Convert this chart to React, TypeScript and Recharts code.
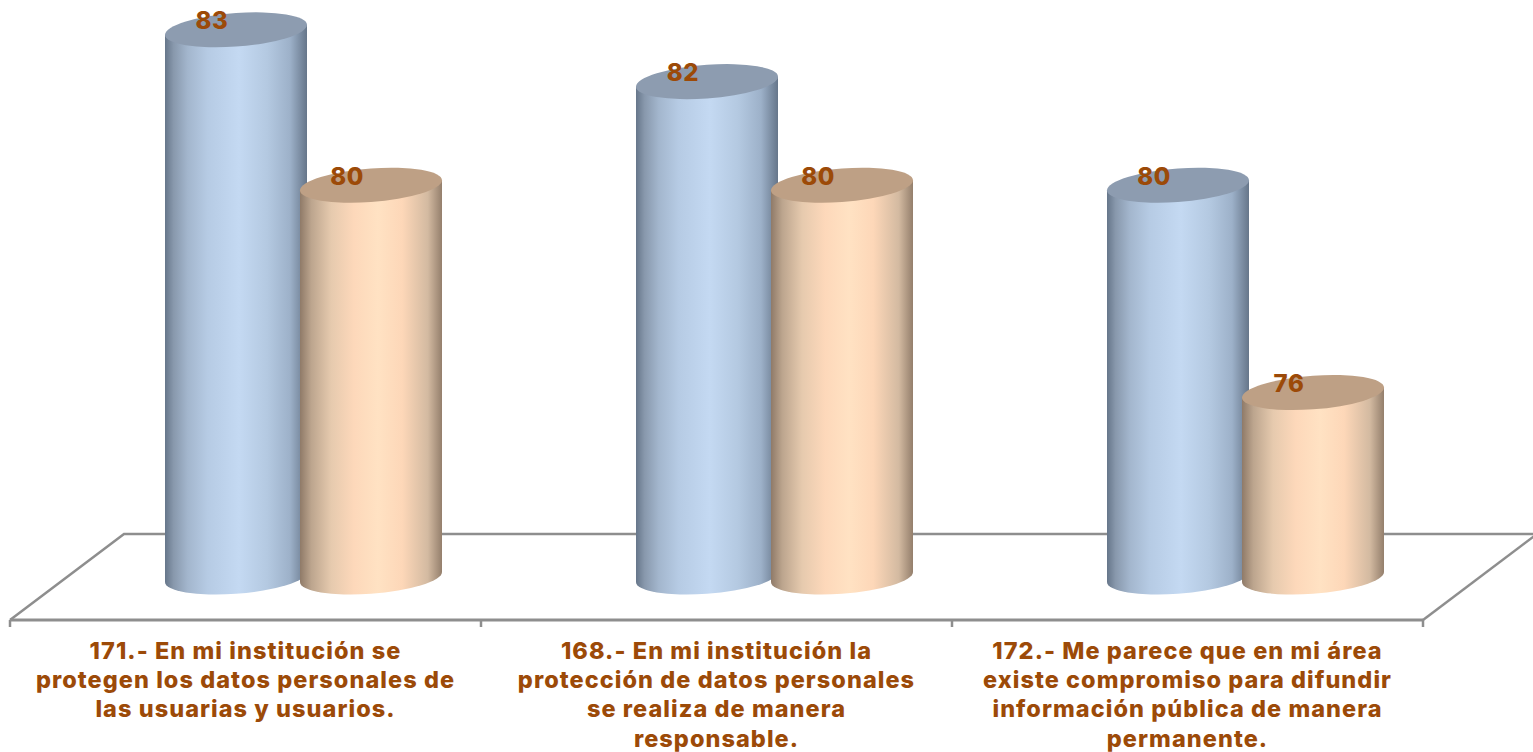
import { BarChart, Bar, XAxis, YAxis, LabelList, usePlotArea } from 'recharts'

const categories = ['171', '168', '172']
const categoryLines = [
  ['171.- En mi institución se', 'protegen los datos personales de', 'las usuarias y usuarios.'],
  ['168.- En mi institución la', 'protección de datos personales', 'se realiza de manera', 'responsable.'],
  ['172.- Me parece que en mi área', 'existe compromiso para difundir', 'información pública de manera', 'permanente.'],
]
const blueValues = [83, 82, 80]
const orangeValues = [80, 80, 76]

const data = categories.map((name, i) => ({
  name,
  blue: blueValues[i],
  orange: orangeValues[i],
}))

const TEXT_COLOR = '#9c4a08'
const FONT = 'Inter, sans-serif'
const FLOOR_COLOR = '#8e8e8e'

// floor depth, and how far the cylinders sit back from the front edge
const DEPTH_X = 114
const DEPTH_Y = 86
const BAR_SHIFT_X = 58
const BAR_SHIFT_Y = 43
const SLANT = 5
const CAP_RY = 16.8

function Floor() {
  const plot = usePlotArea()
  if (!plot) return null
  const { x, y, width, height } = plot
  const bottom = y + height
  const right = x + width
  const band = width / categories.length
  return (
    <g stroke={FLOOR_COLOR} strokeWidth={2.5} fill="none">
      <path d={`M${x} ${bottom} L${x + DEPTH_X} ${bottom - DEPTH_Y} H${right + DEPTH_X + 2}`} />
      <path d={`M${right} ${bottom} L${right + DEPTH_X} ${bottom - DEPTH_Y}`} />
      {[0, 1, 2, 3].map((i) => (
        <line key={i} x1={x + band * i} x2={x + band * i} y1={bottom} y2={bottom + 7} />
      ))}
    </g>
  )
}

function Cylinder(props: any) {
  const { x, y, width, height, gradient, capColor } = props
  const rx = width / 2
  const cx = x + rx + BAR_SHIFT_X
  const top = y - BAR_SHIFT_Y
  const shear = `matrix(1 ${-SLANT / rx} 0 1 ${cx} ${top})`
  return (
    <g transform={shear}>
      <path
        d={`M${-rx} 0 V${height} A${rx} ${CAP_RY} 0 0 0 ${rx} ${height} V0 Z`}
        fill={`url(#${gradient})`}
      />
      <ellipse cx={0} cy={0} rx={rx} ry={CAP_RY} fill={capColor} />
    </g>
  )
}

function ValueLabel(props: any) {
  const { x, y, width, value } = props
  return (
    <text
      x={x + width / 2 + BAR_SHIFT_X - 24}
      y={y - BAR_SHIFT_Y - 9}
      dy={8.5}
      textAnchor="middle"
      fontFamily={FONT}
      fontWeight={800}
      fontSize={24}
      letterSpacing={0.6}
      fill={TEXT_COLOR}
    >
      {value}
    </text>
  )
}

function CategoryTick(props: any) {
  const { x, index } = props
  return (
    <text
      textAnchor="middle"
      fontFamily={FONT}
      fontWeight={800}
      fontSize={23.5}
      letterSpacing={1.05}
      fill={TEXT_COLOR}
    >
      {categoryLines[index].map((line, i) => (
        <tspan key={i} x={x} y={658.5 + i * 29.4}>
          {line}
        </tspan>
      ))}
    </text>
  )
}

export default function App() {
  return (
    <div style={{ position: 'absolute', left: 0, top: 0 }}>
      <BarChart
        width={1533}
        height={752}
        data={data}
        barSize={142}
        barGap={-7}
        margin={{ top: 21, right: 110, bottom: 0, left: 10 }}
      >
        <defs>
          <linearGradient id="blueBody" x1="0" y1="0" x2="1" y2="0">
            <stop offset="0%" stopColor="#66768a" />
            <stop offset="6%" stopColor="#8898ac" />
            <stop offset="16%" stopColor="#a3b6cd" />
            <stop offset="30%" stopColor="#b6cbe4" />
            <stop offset="52%" stopColor="#c4d9f2" />
            <stop offset="72%" stopColor="#b4c9e1" />
            <stop offset="88%" stopColor="#9db1c9" />
            <stop offset="100%" stopColor="#66768a" />
          </linearGradient>
          <linearGradient id="orangeBody" x1="0" y1="0" x2="1" y2="0">
            <stop offset="0%" stopColor="#8f7a68" />
            <stop offset="8%" stopColor="#bca58e" />
            <stop offset="22%" stopColor="#e6caae" />
            <stop offset="38%" stopColor="#fdd8ba" />
            <stop offset="55%" stopColor="#ffe2c3" />
            <stop offset="72%" stopColor="#fdd7b8" />
            <stop offset="90%" stopColor="#d3baa1" />
            <stop offset="100%" stopColor="#947f6c" />
          </linearGradient>
        </defs>
        <Floor />
        <XAxis
          dataKey="name"
          interval={0}
          height={132}
          axisLine={{ stroke: FLOOR_COLOR, strokeWidth: 3 }}
          tickLine={false}
          tick={<CategoryTick />}
        />
        <YAxis hide domain={[72.44, 84]} />
        <Bar
          dataKey="blue"
          isAnimationActive={false}
          shape={<Cylinder gradient="blueBody" capColor="#8d9cb0" />}
        >
          <LabelList dataKey="blue" content={<ValueLabel />} />
        </Bar>
        <Bar
          dataKey="orange"
          isAnimationActive={false}
          shape={<Cylinder gradient="orangeBody" capColor="#bea085" />}
        >
          <LabelList dataKey="orange" content={<ValueLabel />} />
        </Bar>
      </BarChart>
    </div>
  )
}
